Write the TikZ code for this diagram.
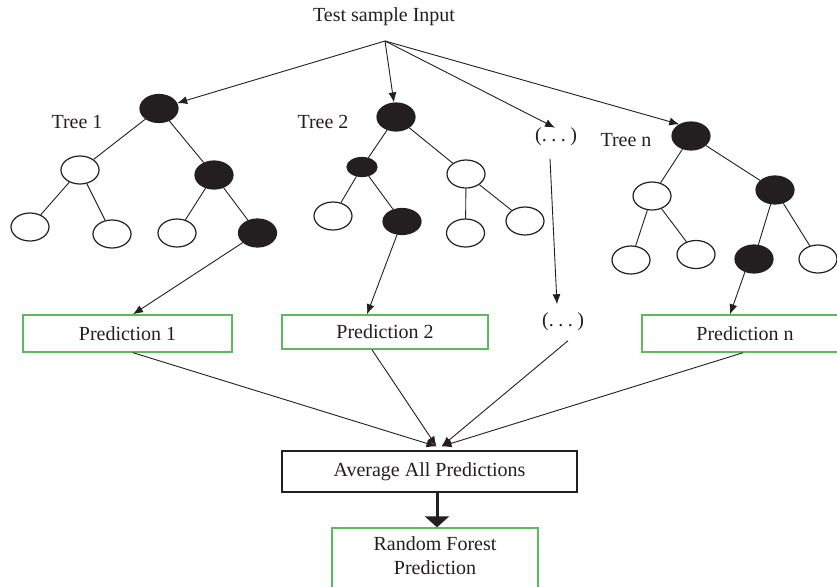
\documentclass[tikz,border=0pt]{standalone}
\usepackage{fontspec}
\setmainfont{Liberation Serif}
\usetikzlibrary{shapes.geometric,arrows.meta}
\definecolor{boxgreen}{RGB}{92,186,92}
\definecolor{ink}{RGB}{35,31,32}
\newcommand{\gapdots}{(.\kern4.5pt.\kern4.5pt.\kern4.5pt)}
\begin{document}
\begin{tikzpicture}[x=1pt,y=-1pt,
  font=\fontsize{20}{24}\selectfont,
  every node/.style={text=ink},
  blank/.style={ellipse,draw=ink,line width=1.2pt,fill=white,
    minimum width=38pt,minimum height=28pt,inner sep=0pt},
  chosen/.style={blank,fill=ink},
  branch/.style={draw=ink,line width=0.9pt},
  flow/.style={branch,-{Latex[length=10pt,width=8pt]}},
  predbox/.style={draw=boxgreen,line width=1.4pt,inner sep=0pt},
  plainbox/.style={draw=ink,line width=1.2pt,inner sep=0pt}]
\clip (0,0) rectangle (837,586);
\fill[white] (0,0) rectangle (837,586);

% input
\node (title) at (384,17) {Test sample Input};
\coordinate (src) at (385,41);

% tree 1
\node at (77,122) {Tree 1};
\node[chosen] (t1root) at (159,108.5) {};
\node[blank]  (t1l)  at (80,170) {};
\node[chosen] (t1r)  at (214,175) {};
\node[blank]  (t1ll) at (30,227) {};
\node[blank]  (t1lr) at (112,234) {};
\node[blank]  (t1rl) at (177,233) {};
\node[chosen] (t1rr) at (257.5,233) {};

% tree 2
\node at (323,122) {Tree 2};
\node[chosen] (t2root) at (396,117) {};
\node[chosen,minimum width=30pt,minimum height=19pt] (t2l) at (362,167) {};
\node[blank]  (t2r)  at (466,174) {};
\node[blank]  (t2ll) at (333,216) {};
\node[chosen,minimum height=26pt] (t2lr) at (402,221.5) {};
\node[blank]  (t2rl) at (465.5,233) {};
\node[blank]  (t2rr) at (525,221) {};

% elided trees
\node[inner sep=0pt] (e1) at (556,137) {\gapdots};
\node[inner sep=0pt] (e2) at (563,322) {\gapdots};

% tree n
\node at (626,140) {Tree n};
\node[chosen] (tnroot) at (691,136) {};
\node[blank]  (tnl)  at (652,196) {};
\node[chosen] (tnr)  at (775,190) {};
\node[blank]  (tnll) at (631,260) {};
\node[blank]  (tnlr) at (696,254.5) {};
\node[chosen] (tnrl) at (754,259) {};
\node[blank]  (tnrr) at (818,259) {};

% tree edges
\draw[branch] (t1root) -- (t1l) (t1root) -- (t1r)
  (t1l) -- (t1ll) (t1l) -- (t1lr) (t1r) -- (t1rl) (t1r) -- (t1rr);
\draw[branch] (t2root) -- (t2l) (t2root) -- (t2r)
  (t2l) -- (t2ll) (t2l) -- (t2lr) (t2r) -- (t2rl) (t2r) -- (t2rr);
\draw[branch] (tnroot) -- (tnl) (tnroot) -- (tnr)
  (tnl) -- (tnll) (tnl) -- (tnlr) (tnr) -- (tnrl) (tnr) -- (tnrr);

% prediction boxes
\node[predbox,minimum width=209pt,minimum height=37pt] (p1) at (127.5,333.5) {Prediction 1};
\node[predbox,minimum width=206pt,minimum height=34pt] (p2) at (385,332) {Prediction 2};
\node[predbox,minimum width=206pt,minimum height=37pt] (pn) at (745,333.5) {Prediction n};
\node[plainbox,minimum width=295pt,minimum height=41pt] (avg) at (429.5,471.5) {Average All Predictions};
\node[predbox,minimum width=206pt,minimum height=66pt] (rf) at (435,561) {};
\node[align=center,inner sep=0pt,font=\fontsize{20}{24.5}\selectfont] (rflabel) at (435,555.5) {Random Forest\\Prediction};

% input to trees
\draw[flow] (src) -- (t1root);
\draw[flow] (src) -- (t2root);
\draw[flow] (src) -- ([xshift=-1pt]e1.north);
\draw[flow] (src) -- (tnroot.135);

% trees to predictions
\draw[flow] (t1rr) -- ([xshift=5.5pt]p1.north);
\draw[flow] (t2lr) -- ([xshift=-18pt]p2.north);
\draw[flow] ([xshift=-6pt,yshift=-12.5pt]e1.south) -- ([xshift=-6pt,yshift=8.5pt]e2.north);
\draw[flow] (tnrl.235) -- ([xshift=-15pt]pn.north);

% predictions to the average
\draw[flow] ([xshift=5.5pt]p1.south) -- ([xshift=7pt,yshift=4pt]avg.north);
\draw[flow] ([xshift=-13pt]p2.south) -- ([xshift=7pt,yshift=4pt]avg.north);
\draw[flow] ([xshift=5pt,yshift=-9.5pt]e2.south) -- ([xshift=12pt,yshift=4pt]avg.north);
\draw[flow] ([xshift=-2pt]pn.south) -- ([xshift=12pt,yshift=4pt]avg.north);

% final step
\draw[draw=ink,line width=3pt,-{Triangle[length=11pt,width=24pt]}]
  ([xshift=7.5pt]avg.south) -- ([xshift=2pt]rf.north);
\end{tikzpicture}
\end{document}
